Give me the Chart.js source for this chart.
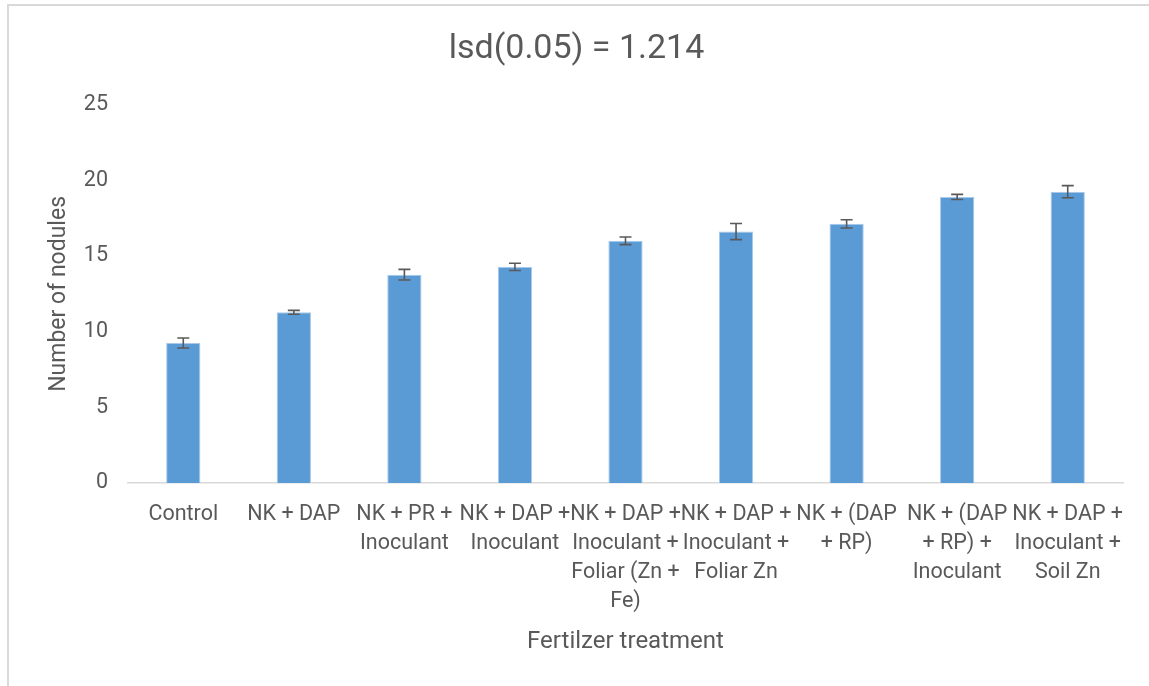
<!DOCTYPE html>
<html>
<head>
<meta charset="utf-8">
<script src="https://cdn.jsdelivr.net/npm/chart.js@4.4.1/dist/chart.umd.min.js"></script>
<style>
  html, body { margin: 0; padding: 0; background: #fff; }
  #frame { position: absolute; left: 7px; top: 4px; width: 1160px; height: 700px;
           border-left: 2px solid #d9d9d9; border-top: 2px solid #d9d9d9; }
  #wrap { position: absolute; left: 0; top: 0; width: 1149px; height: 686px; }
</style>
</head>
<body>
<div id="frame"></div>
<div id="wrap"><canvas id="c"></canvas></div>
<script>
// Nodulation by fertilizer treatment (means with error bars)
const treatments = [
  ['Control'],
  ['NK + DAP'],
  ['NK + PR +', 'Inoculant'],
  ['NK + DAP +', 'Inoculant'],
  ['NK + DAP +', 'Inoculant +', 'Foliar (Zn +', 'Fe)'],
  ['NK + DAP +', 'Inoculant +', 'Foliar Zn'],
  ['NK + (DAP', '+ RP)'],
  ['NK + (DAP', '+ RP) +', 'Inoculant'],
  ['NK + DAP +', 'Inoculant +', 'Soil Zn'],
];
const nodules = [9.25, 11.28, 13.77, 14.29, 16.01, 16.62, 17.13, 18.91, 19.26];
const errors = [0.33, 0.13, 0.35, 0.24, 0.25, 0.53, 0.27, 0.17, 0.40];
const yTicks = [0, 5, 10, 15, 20, 25];

const TXT = '#595959';
const FONT = 'Roboto, "Open Sans", sans-serif';

// error bars drawn from the y scale
const errorBars = {
  id: 'errorBars',
  afterDatasetsDraw(chart) {
    const { ctx, scales: { y } } = chart;
    const meta = chart.getDatasetMeta(0);
    ctx.save();
    ctx.strokeStyle = '#595959';
    ctx.lineWidth = 1.6;
    meta.data.forEach((bar, i) => {
      const hi = y.getPixelForValue(nodules[i] + errors[i]);
      const lo = y.getPixelForValue(nodules[i] - errors[i]);
      ctx.beginPath();
      ctx.moveTo(bar.x, hi); ctx.lineTo(bar.x, lo);
      ctx.moveTo(bar.x - 6, hi); ctx.lineTo(bar.x + 6, hi);
      ctx.moveTo(bar.x - 6, lo); ctx.lineTo(bar.x + 6, lo);
      ctx.stroke();
    });
    ctx.restore();
  },
};

new Chart(document.getElementById('c'), {
  type: 'bar',
  data: {
    labels: treatments,
    datasets: [{
      data: nodules,
      backgroundColor: '#5b9bd5',
      borderColor: '#a9c9ea',
      borderWidth: { top: 1, left: 1, right: 1, bottom: 0 },
      categoryPercentage: 1,
      barPercentage: 0.31,
    }],
  },
  options: {
    responsive: true, maintainAspectRatio: false, animation: false,
    layout: { padding: { top: 29, right: 26, bottom: 23, left: 30 } },
    plugins: {
      legend: { display: false },
      tooltip: { enabled: false },
      title: {
        display: true, text: 'lsd(0.05) = 1.214', color: TXT,
        font: { family: FONT, size: 34, weight: 'normal' },
        padding: { top: 0, bottom: 35 },
      },
    },
    scales: {
      x: {
        grid: { display: false, drawTicks: false },
        border: { display: true, color: '#d9d9d9', width: 1.5 },
        ticks: { color: TXT, font: { family: FONT, size: 21.5, lineHeight: 1.35 }, padding: 17, maxRotation: 0, autoSkip: false },
        title: { display: true, text: 'Fertilzer treatment', color: TXT, font: { family: FONT, size: 24 }, padding: { top: 8, bottom: 7 } },
        afterFit: s => { s.height = 180; },
      },
      y: {
        min: 0, max: 25,
        afterBuildTicks: s => { s.ticks = yTicks.map(v => ({ value: v })); },
        grid: { display: false, drawTicks: false },
        border: { display: false },
        ticks: { color: TXT, font: { family: FONT, size: 21.5 }, padding: 20 },
        title: { display: true, text: 'Number of nodules', color: TXT, font: { family: FONT, size: 23 }, padding: { top: 15, bottom: 10 } },
        afterFit: s => { s.width = 98; },
      },
    },
  },
  plugins: [errorBars],
});
</script>
</body>
</html>
